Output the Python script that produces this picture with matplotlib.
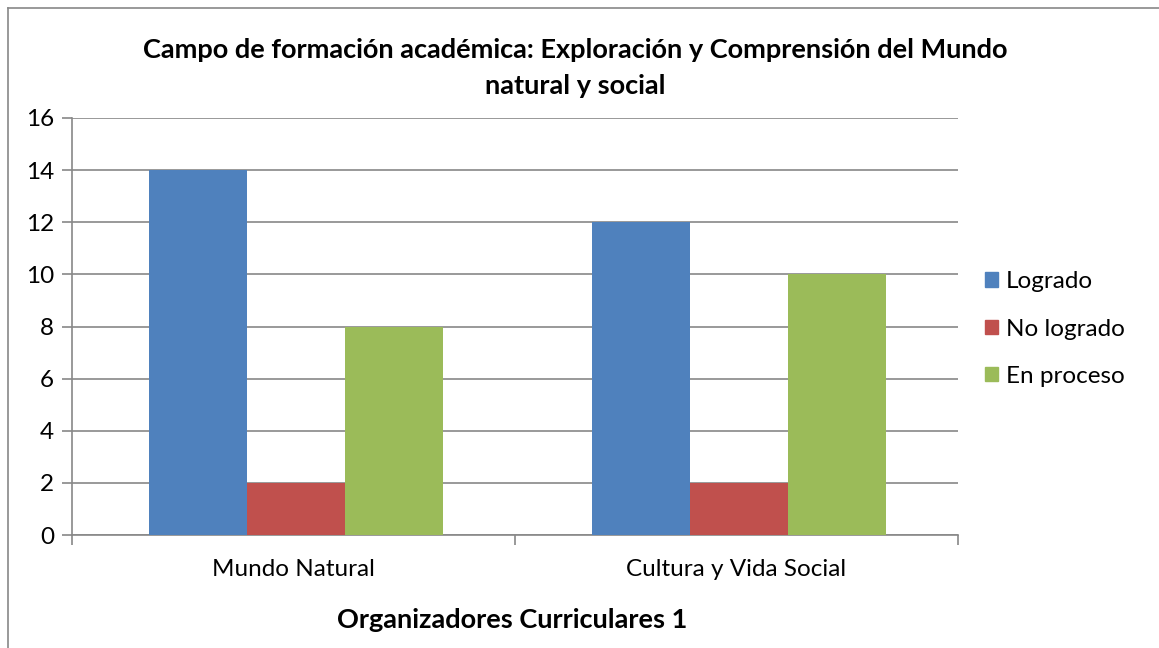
import matplotlib.pyplot as plt
import numpy as np
from matplotlib.patches import Patch
from matplotlib.lines import Line2D

# Datos
categorias = ['Mundo Natural', 'Cultura y Vida Social']
series = ['Logrado', 'No logrado', 'En proceso']
logrado = [14, 12]
no_logrado = [2, 2]
en_proceso = [8, 10]
colores = ['#4F81BD', '#C0504D', '#9BBB59']
titulo = 'Campo de formación académica: Exploración y Comprensión del Mundo\nnatural y social'
etiqueta_x = 'Organizadores Curriculares 1'

plt.rcParams['font.family'] = ['Lato', 'DejaVu Sans']

fig = plt.figure(figsize=(11.59, 6.48), dpi=100)
ax = fig.add_axes([72/1159, 1-535/648, (958-72)/1159, (535-118)/648])

x = np.arange(len(categorias))
ancho = 0.221
valores = [logrado, no_logrado, en_proceso]
for i, (nombre, vals) in enumerate(zip(series, valores)):
    ax.bar(x + (i - 1) * ancho + 0.006, vals, ancho, color=colores[i], label=nombre, zorder=3)

ax.set_xlim(-0.5, 1.5)
ax.set_ylim(0, 16)
ax.set_yticks(range(0, 17, 2))
ax.yaxis.grid(True, color='#888888', linewidth=1.2, zorder=0)

ax.set_xticks([-0.5, 0.5, 1.5])
ax.set_xticklabels([])
ax.set_xticks(x, minor=True)
ax.set_xticklabels(categorias, minor=True, fontsize=17.5)
ax.tick_params(axis='x', which='minor', length=0, pad=17)
ax.tick_params(axis='x', which='major', length=7, color='#888888', width=1.2)
ax.tick_params(axis='y', length=7, color='#888888', width=1.2, labelsize=17.5, pad=6)

for lado in ['top', 'right']:
    ax.spines[lado].set_visible(False)
for lado in ['left', 'bottom']:
    ax.spines[lado].set_color('#888888')
    ax.spines[lado].set_linewidth(1.2)

fig.text(575/1159, 1-68/648, titulo, ha='center', va='center', fontsize=19.5,
         fontweight='bold', linespacing=1.56)
fig.text(512/1159, 1-620/648, etiqueta_x, ha='center', va='center', fontsize=19.5,
         fontweight='bold')

handles = [Patch(color=c, label=s) for c, s in zip(colores, series)]
fig.legend(handles=handles, loc='center left', bbox_to_anchor=(985/1159, 1-329/648),
           frameon=False, fontsize=17.5, handlelength=0.55, handleheight=0.55,
           handletextpad=0.3, labelspacing=1.08, borderpad=0, borderaxespad=0)

# Borde del gráfico
fig.add_artist(Line2D([8/1159, 8/1159], [0, 1-8/648], color='#888888', linewidth=1.2))
fig.add_artist(Line2D([8/1159, 1], [1-8/648, 1-8/648], color='#888888', linewidth=1.2))

fig.savefig('out.png', dpi=100)
